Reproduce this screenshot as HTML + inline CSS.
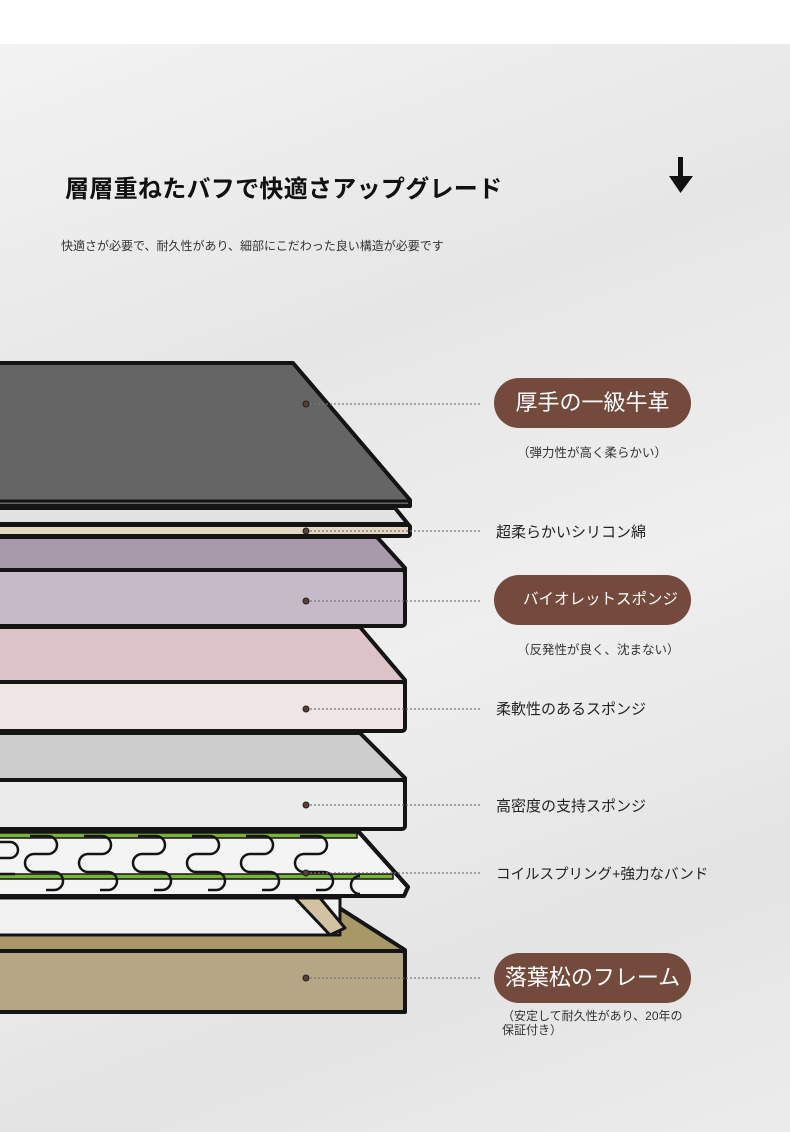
<!DOCTYPE html>
<html><head><meta charset="utf-8"><style>
body{margin:0;width:790px;height:1132px;overflow:hidden;background:#fff;font-family:"Liberation Sans","Noto Sans CJK JP",sans-serif;}
.bg{position:absolute;left:0;top:44px;width:790px;height:1088px;background:linear-gradient(160deg,#f3f3f3 0%,#e6e6e6 30%,#efefef 55%,#e4e4e4 80%,#ececec 100%);}
.t{position:absolute;color:#222;white-space:nowrap}
.pill{position:absolute;left:494px;width:197px;height:50px;border-radius:25px;background:#744a3c;color:#fff;text-align:center;line-height:50px;font-size:22px}
</style></head><body>
<div class="bg"></div>
<div class="t" style="left:65px;top:169px;font-size:24px;font-weight:bold;color:#111;letter-spacing:0.3px">層層重ねたバフで快適さアップグレード</div>
<div class="t" style="left:61px;top:237px;font-size:12px;color:#333">快適さが必要で、耐久性があり、細部にこだわった良い構造が必要です</div>
<svg style="position:absolute;left:668px;top:155px" width="26" height="40"><rect x="10" y="2" width="5" height="24" fill="#111"/><polygon points="1,21 25,21 12.5,38" fill="#111"/></svg>
<svg style="position:absolute;left:0;top:0" width="790" height="1132">
<g stroke="#141414" stroke-width="4" stroke-linejoin="round">
<polygon points="-5,900 327,900 405,950 405,1012 -5,1012" fill="#a89868"/>
<rect x="-5" y="951" width="410" height="61" rx="3" fill="#b5a684"/>
<polygon points="-5,898 340,898 340,935 -5,935" fill="#f2f2f2" stroke-width="3"/>
<polygon points="295,898 320,898 345,928 330,935" fill="#d3c2a2" stroke-width="3"/>
<polygon points="-5,831 358,831 408,887 404,896 -5,896" fill="#f4f4f4"/>
</g>
<g stroke="#141414" stroke-width="1.5" fill="#7ab33a">
<rect x="-5" y="833" width="362" height="5"/><rect x="-5" y="874" width="398" height="5"/>
</g>
<g fill="none" stroke="#141414" stroke-width="2.5">
<path d="M-10,842 h20 a8,8 0 0 1 0,16 h-15 a8,8 0 0 0 0,16 h20"/>
<path d="M30,836 h18 a9,9 0 0 1 0,18 h-14 a9,9 0 0 0 0,18 h20 a9,9 0 0 1 0,18 h-8"/>
<path d="M84,836 h18 a9,9 0 0 1 0,18 h-14 a9,9 0 0 0 0,18 h20 a9,9 0 0 1 0,18 h-8"/>
<path d="M138,836 h18 a9,9 0 0 1 0,18 h-14 a9,9 0 0 0 0,18 h20 a9,9 0 0 1 0,18 h-8"/>
<path d="M192,836 h18 a9,9 0 0 1 0,18 h-14 a9,9 0 0 0 0,18 h20 a9,9 0 0 1 0,18 h-8"/>
<path d="M246,836 h18 a9,9 0 0 1 0,18 h-14 a9,9 0 0 0 0,18 h20 a9,9 0 0 1 0,18 h-8"/>
<path d="M300,836 h18 a9,9 0 0 1 0,18 h-14 a9,9 0 0 0 0,18 h20 a9,9 0 0 1 0,18 h-8"/>
<path d="M360,876 a9,9 0 0 0 0,18"/>
</g>
<polygon points="-5,831 358,831 408,887 404,896 -5,896" fill="none" stroke="#141414" stroke-width="4" stroke-linejoin="round"/>
<g stroke="#141414" stroke-width="4" stroke-linejoin="round">
<polygon points="-5,733 360,733 405,778 405,782 -5,782" fill="#cdcdcd"/>
<rect x="-5" y="780" width="410" height="49" rx="3" fill="#ececec"/>
<polygon points="-5,627 360,627 405,680 405,684 -5,684" fill="#dcc3c7"/>
<rect x="-5" y="682" width="410" height="49" rx="3" fill="#efe5e5"/>
<polygon points="-5,537 377,537 405,568 405,572 -5,572" fill="#a899aa"/>
<rect x="-5" y="570" width="410" height="56" rx="3" fill="#c6b9c8"/>
<polygon points="-5,508 395,508 408,524 -5,524" fill="#e2e2e2"/>
<rect x="-5" y="525" width="415" height="11" rx="2" fill="#e4d8c0"/>
<polygon points="-5,363 293,363 410,500 410,506 -5,506" fill="#656565"/>
<line x1="-5" y1="501" x2="410" y2="501" stroke-width="3"/>
</g>
<g stroke="#777" stroke-width="1.2" stroke-dasharray="2,2">
<line x1="306" y1="404" x2="480" y2="404"/><line x1="306" y1="531" x2="480" y2="531"/>
<line x1="306" y1="601" x2="480" y2="601"/><line x1="306" y1="709" x2="480" y2="709"/>
<line x1="306" y1="805" x2="480" y2="805"/><line x1="306" y1="873" x2="480" y2="873"/>
<line x1="306" y1="978" x2="480" y2="978"/>
</g>
<g fill="#5a3f33" stroke="#222" stroke-width="1">
<circle cx="306" cy="404" r="3"/><circle cx="306" cy="531" r="3"/><circle cx="306" cy="601" r="3"/>
<circle cx="306" cy="709" r="3"/><circle cx="306" cy="805" r="3"/><circle cx="306" cy="873" r="3"/><circle cx="306" cy="978" r="3"/>
</g>
</svg>
<div class="pill" style="top:378px">厚手の一級牛革</div>
<div class="t" style="left:517px;top:442px;font-size:12.5px;color:#333">（弾力性が高く柔らかい）</div>
<div class="t" style="left:496px;top:521px;font-size:15px">超柔らかいシリコン綿</div>
<div class="pill" style="top:575px;font-size:15.5px;padding-left:16px;box-sizing:border-box">バイオレットスポンジ</div>
<div class="t" style="left:517px;top:639px;font-size:12.5px;color:#333">（反発性が良く、沈まない）</div>
<div class="t" style="left:496px;top:698px;font-size:15px">柔軟性のあるスポンジ</div>
<div class="t" style="left:496px;top:795px;font-size:15px">高密度の支持スポンジ</div>
<div class="t" style="left:496px;top:863px;font-size:14.5px">コイルスプリング+強力なバンド</div>
<div class="pill" style="top:953px">落葉松のフレーム</div>
<div class="t" style="left:502px;top:1009px;font-size:12px;color:#333;line-height:14px">（安定して耐久性があり、20年の<br>保証付き）</div>
</body></html>
